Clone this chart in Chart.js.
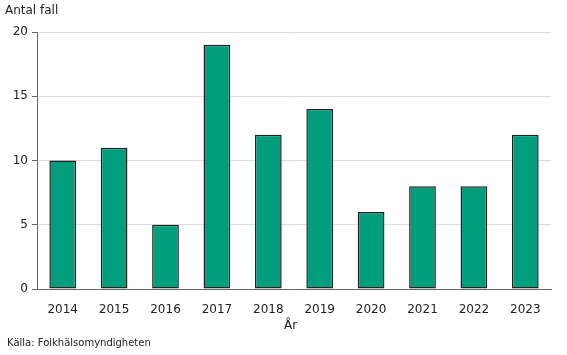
<!DOCTYPE html>
<html><head><meta charset="utf-8">
<script src="https://cdn.jsdelivr.net/npm/chart.js@4"></script>
<style>
html,body{margin:0;padding:0;background:#fff;}
#wrap{position:relative;width:567px;height:355px;font-family:"DejaVu Sans",sans-serif;color:#222;}
canvas{position:absolute;left:0;top:0;}
.t{position:absolute;white-space:nowrap;}
</style></head>
<body>
<div id="wrap">
<canvas id="c" width="567" height="355"></canvas>
<div class="t" id="ylab" style="left:5px;top:3px;font-size:12px;">Antal fall</div>
<div class="t" id="xlab" style="left:284px;top:318px;font-size:12px;">År</div>
<div class="t" id="src" style="left:7px;top:337px;font-size:10px;">Källa: Folkhälsomyndigheten</div>
</div>
<script>
const categories = ["2014","2015","2016","2017","2018","2019","2020","2021","2022","2023"];
const cases = [10, 11, 5, 19, 12, 14, 6, 8, 8, 12];
const yTicks = [0, 5, 10, 15, 20];

new Chart(document.getElementById('c'), {
  type: 'bar',
  data: {
    labels: categories,
    datasets: [{
      data: cases,
      backgroundColor: '#009E7C',
      borderColor: '#222',
      borderWidth: 1.5,
      borderSkipped: false,
      barPercentage: 0.52,
      categoryPercentage: 1.0
    }]
  },
  options: {
    responsive: false,
    animation: false,
    layout: { padding: { left: 0, right: 16, top: 32, bottom: 0 } },
    plugins: { legend: { display: false }, tooltip: { enabled: false }, title: { display: false } },
    scales: {
      x: {
        grid: { display: false },
        border: { display: true, color: '#666', width: 1 },
        ticks: { color: '#222', font: { family: 'DejaVu Sans', size: 12 }, padding: 6, maxRotation: 0 },
        afterFit: s => { s.height = 66; }
      },
      y: {
        min: 0, max: 20,
        afterBuildTicks: s => { s.ticks = yTicks.map(v => ({ value: v })); },
        grid: { color: '#dcdcdc', tickColor: '#666', tickLength: 5, lineWidth: 1 },
        border: { display: true, color: '#666', width: 1 },
        ticks: { color: '#222', font: { family: 'DejaVu Sans', size: 12 }, padding: 4 },
        afterFit: s => { s.width = 37; }
      }
    }
  }
});
</script>
</body></html>
